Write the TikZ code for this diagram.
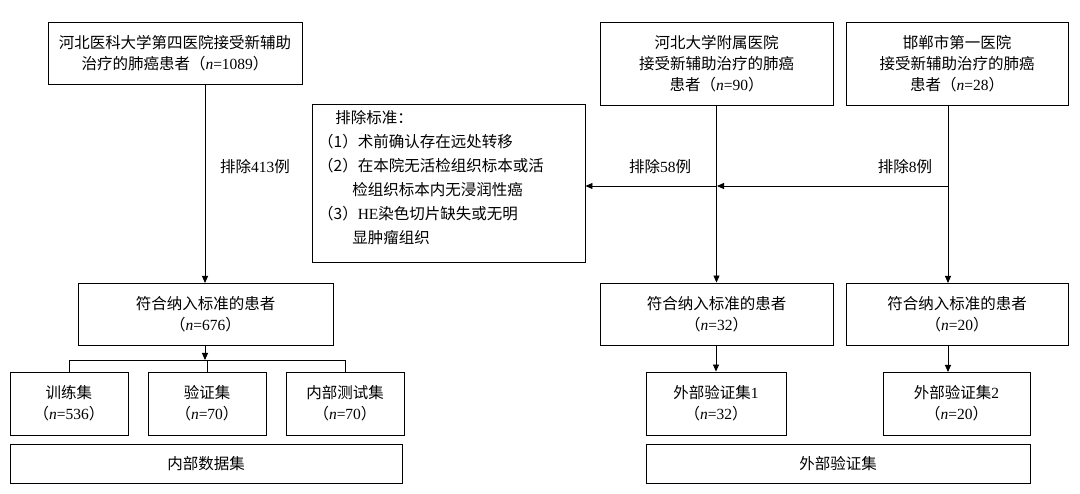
\documentclass[tikz,border=0pt]{standalone}
\usepackage{fontspec}
\setmainfont{Noto Sans CJK SC}
\newfontfamily\lat{Liberation Serif}
\newcommand\NN[1]{（{\lat\textit{n}=#1}）}
\newcommand\LL[1]{{\lat #1}}
\usetikzlibrary{arrows.meta}
\begin{document}
\begin{tikzpicture}[x=1pt,y=-1pt,font=\fontsize{15.5}{21}\selectfont,
  bx/.style={draw,line width=0.9pt,align=center,inner sep=0pt},
  ar/.style={line width=0.9pt,-{Triangle[length=7pt,width=6pt]}},
  ln/.style={line width=0.9pt},
  lb/.style={inner sep=1pt,fill=white}]
\useasboundingbox (0,0) rectangle (1080,494);
\def\bx#1#2#3#4#5#6{\node[bx,minimum width=#4-#2,minimum height=#5-#3] (#1) at ({(#2+#4)/2},{(#3+#5)/2}) {#6};}
\bx{A}{48}{22}{302}{84}{河北医科大学第四医院接受新辅助\\治疗的肺癌患者\NN{1089}}
\bx{B}{600}{22}{833}{105}{河北大学附属医院\\接受新辅助治疗的肺癌\\患者\NN{90}}
\bx{C}{846}{22}{1068}{105}{邯郸市第一医院\\接受新辅助治疗的肺癌\\患者\NN{28}}
\node[draw,line width=0.9pt,minimum width=273,minimum height=158,inner sep=0pt] (X) at (448.5,183) {};
\node[align=left,anchor=north west,inner sep=0pt,font=\fontsize{15.5}{24}\selectfont] at (318,110) {\hspace*{1.1em}排除标准：\\（1）术前确认存在远处转移\\（2）在本院无活检组织标本或活\\\hspace*{2.2em}检组织标本内无浸润性癌\\（3）\LL{HE}染色切片缺失或无明\\\hspace*{2.2em}显肿瘤组织};
\bx{D}{78}{283}{333}{345}{符合纳入标准的患者\\\NN{676}}
\bx{E}{600}{283}{833}{345}{符合纳入标准的患者\\\NN{32}}
\bx{F}{846}{283}{1068}{345}{符合纳入标准的患者\\\NN{20}}
\bx{T}{10}{372}{128}{435}{训练集\\\NN{536}}
\bx{V}{148}{372}{266}{435}{验证集\\\NN{70}}
\bx{I}{286}{372}{404}{435}{内部测试集\\\NN{70}}
\bx{E1}{646}{372}{786}{435}{外部验证集\LL{1}\\\NN{32}}
\bx{E2}{883}{372}{1030}{435}{外部验证集\LL{2}\\\NN{20}}
\bx{ID}{10}{444}{402}{483}{内部数据集}
\bx{ED}{646}{444}{1030}{483}{外部验证集}
\draw[ar] (205,84) -- (205,283);
\node[lb] at (255,167) {排除\LL{413}例};
\draw[ar] (B.south) -- (E.north);
\draw[ar] (948,105) -- (948,283);
\coordinate (j1) at (948,186);
\coordinate (j2) at (717,186);
\draw[ar] (j1) -- (j2);
\draw[ar] (j2) -- (X.east |- j2);
\node[lb] at (660,167) {排除\LL{58}例};
\node[lb] at (905,167) {排除\LL{8}例};
\coordinate (s) at (205,360);
\draw[ar] (D.south -| s) -- (s);
\draw[ln] (T.north |- s) -- (I.north |- s);
\draw[ln] (T.north |- s) -- (T.north);
\draw[ln] (V.north |- s) -- (V.north);
\draw[ln] (I.north |- s) -- (I.north);
\draw[ar] (E.south -| E1) -- (E1.north);
\draw[ar] (948,345) -- (948,372);
\end{tikzpicture}
\end{document}
